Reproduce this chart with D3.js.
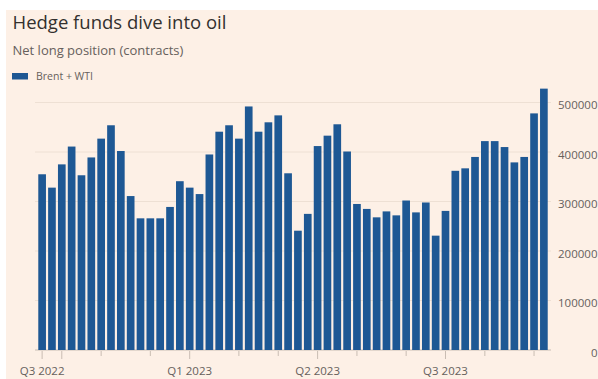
<!DOCTYPE html>
<html>
<head>
<meta charset="utf-8">
<script src="https://cdn.jsdelivr.net/npm/d3@7"></script>
<style>
  html, body { margin: 0; padding: 0; background: #fff; }
  svg { display: block; font-family: "Open Sans", sans-serif; }
</style>
</head>
<body>
<svg id="chart" width="598" height="379"></svg>
<script>
// weekly report dates (Tuesdays)
const weeks = [
  "2022-09-20", "2022-09-27", "2022-10-04", "2022-10-11", "2022-10-18", "2022-10-25",
  "2022-11-01", "2022-11-08", "2022-11-15", "2022-11-22", "2022-11-29",
  "2022-12-06", "2022-12-13", "2022-12-20", "2022-12-27",
  "2023-01-03", "2023-01-10", "2023-01-17", "2023-01-24", "2023-01-31",
  "2023-02-07", "2023-02-14", "2023-02-21", "2023-02-28",
  "2023-03-07", "2023-03-14", "2023-03-21", "2023-03-28",
  "2023-04-04", "2023-04-11", "2023-04-18", "2023-04-25",
  "2023-05-02", "2023-05-09", "2023-05-16", "2023-05-23", "2023-05-30",
  "2023-06-06", "2023-06-13", "2023-06-20", "2023-06-27",
  "2023-07-04", "2023-07-11", "2023-07-18", "2023-07-25",
  "2023-08-01", "2023-08-08", "2023-08-15", "2023-08-22", "2023-08-29",
  "2023-09-05", "2023-09-12"
];
// Brent + WTI net long position (contracts)
const netLong = [
  355000, 328000, 375000, 411000, 353000, 389000,
  427000, 454000, 402000, 311000, 266000,
  266000, 266000, 289000, 341000,
  328000, 315000, 395000, 441000, 454000,
  427000, 492000, 441000, 460000,
  474000, 357000, 241000, 275000,
  412000, 433000, 456000, 401000,
  295000, 285000, 268000, 280000, 272000,
  302000, 278000, 298000, 231000,
  281000, 362000, 367000, 390000,
  422000, 422000, 410000, 379000, 390000,
  478000, 528000
];
const yTicks = [0, 100000, 200000, 300000, 400000, 500000];
const quarterLabels = [
  { week: "2022-09-20", label: "Q3 2022" },
  { week: "2023-01-03", label: "Q1 2023" },
  { week: "2023-04-04", label: "Q2 2023" },
  { week: "2023-07-04", label: "Q3 2023" }
];
const seriesName = "Brent + WTI";

const svg = d3.select("#chart");
const W = 598, H = 379;

// peach panel (reference has a thin white frame top/left)
svg.append("rect").attr("x", 6).attr("y", 10).attr("width", W - 6).attr("height", H - 10)
  .attr("fill", "#fdf0e6");

// titles
svg.append("text").attr("x", 12.5).attr("y", 28.5).text("Hedge funds dive into oil")
  .attr("fill", "#33302e").style("font-size", "18.5px").style("font-weight", 500);
svg.append("text").attr("x", 12.5).attr("y", 55).text("Net long position (contracts)")
  .attr("fill", "#66605c").style("font-size", "13px");

// legend
svg.append("rect").attr("x", 12).attr("y", 73).attr("width", 16).attr("height", 6.5).attr("fill", "#1e5894");
svg.append("text").attr("x", 36).attr("y", 79.5).text(seriesName)
  .attr("fill", "#66605c").style("font-size", "10.5px");

// scales
const x = d3.scaleBand().domain(weeks).range([37.2, 548.8]).paddingInner(0.22).paddingOuter(0.11);
const y = d3.scaleLinear().domain([0, 500000]).range([350, 102.5]);

// gridlines + right axis labels
const grid = svg.append("g").attr("class", "grid");
grid.selectAll("line").data(yTicks).join("line")
  .attr("x1", 35).attr("x2", 551)
  .attr("y1", d => y(d)).attr("y2", d => y(d))
  .attr("stroke", d => d === 0 ? "#c9bdb3" : "#eee0d4").attr("stroke-width", 1);
svg.append("g").attr("class", "y-labels").selectAll("text").data(yTicks).join("text")
  .attr("x", 597.5).attr("y", d => y(d)).attr("dy", 3.5)
  .attr("text-anchor", "end").attr("dominant-baseline", "middle")
  .attr("fill", "#66605c").style("font-size", "11.5px")
  .text(d => d3.format("d")(d));

// bars
const data = weeks.map((w, i) => ({ week: w, value: netLong[i] }));
svg.append("g").attr("class", "bars").selectAll("rect").data(data).join("rect")
  .attr("x", d => x(d.week)).attr("width", x.bandwidth())
  .attr("y", d => y(d.value)).attr("height", d => y(0) - y(d.value))
  .attr("fill", "#1e5894");

// x ticks: first week of each month, longer at quarter starts
const parse = d3.timeParse("%Y-%m-%d");
const tickWeeks = weeks.filter((w, i) => i === 0 || parse(w).getMonth() !== parse(weeks[i - 1]).getMonth());
const isLong = (w, i) => w === weeks[0] || parse(w).getMonth() % 3 === 0;
svg.append("g").attr("class", "x-ticks").selectAll("line").data(tickWeeks).join("line")
  .attr("x1", d => x(d) + x.bandwidth() / 2).attr("x2", d => x(d) + x.bandwidth() / 2)
  .attr("y1", 351).attr("y2", (d, i) => isLong(d, i) ? 359 : 356)
  .attr("stroke", "#c9bdb3").attr("stroke-width", 1);
svg.append("g").attr("class", "x-labels").selectAll("text").data(quarterLabels).join("text")
  .attr("x", d => x(d.week) + x.bandwidth() / 2).attr("y", 374.5)
  .attr("text-anchor", "middle").attr("fill", "#66605c").style("font-size", "11.5px")
  .text(d => d.label);
</script>
</body>
</html>
